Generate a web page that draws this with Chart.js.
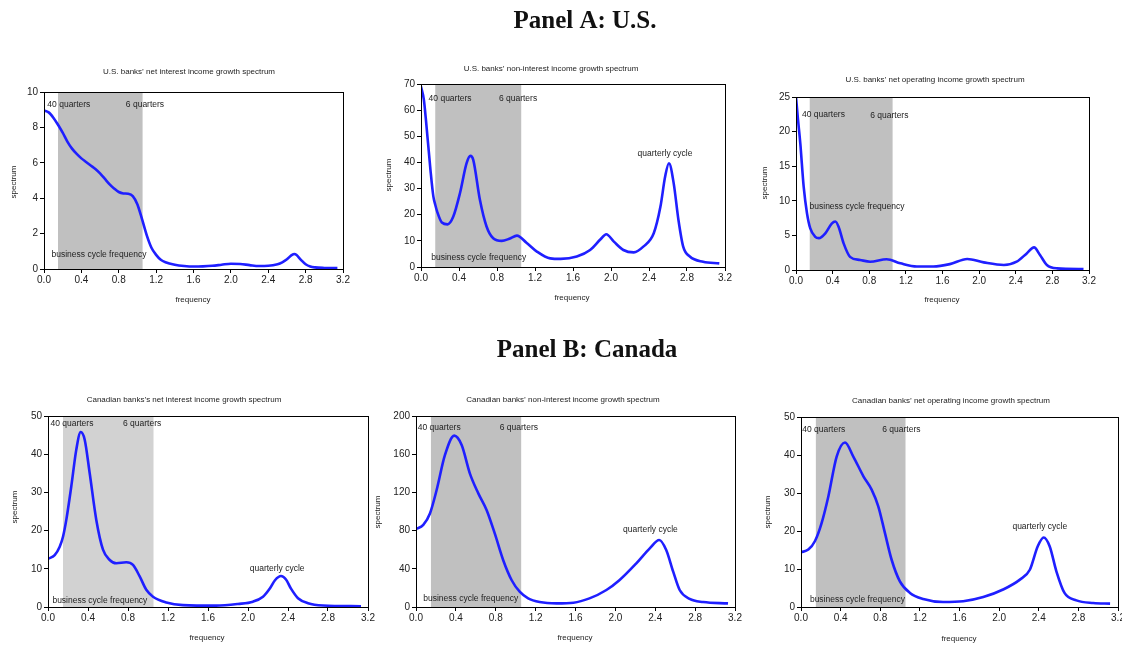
<!DOCTYPE html>
<html><head><meta charset="utf-8">
<script src="https://cdn.jsdelivr.net/npm/chart.js@4.4.1/dist/chart.umd.min.js"></script>
<style>
html,body{margin:0;padding:0;background:#fff;overflow:hidden;width:1122px;height:646px;}
#wrap{position:relative;width:1122px;height:646px;overflow:hidden;}
canvas{position:absolute;}
</style></head><body><div id="wrap"><canvas id="bg" width="1122" height="646" style="left:0;top:0"></canvas></div>
<script>
// ---------------- data ----------------
const headingA = "Panel A: U.S.";
const headingB = "Panel B: Canada";

const xTicks = [0, 0.4, 0.8, 1.2, 1.6, 2.0, 2.4, 2.8, 3.2];
const bandLow = 0.15, bandHigh = 1.055;

// U.S. net interest income
const freqUsNii = [0,0.05,0.1,0.15,0.2,0.25,0.3,0.35,0.4,0.45,0.5,0.55,0.6,0.65,0.7,0.75,0.8,0.85,0.9,0.95,1.0,1.05,1.1,1.15,1.2,1.25,1.3,1.4,1.5,1.6,1.7,1.8,1.9,2.0,2.1,2.2,2.3,2.4,2.5,2.55,2.6,2.65,2.68,2.7,2.75,2.8,2.85,2.9,3.0,3.14];
const specUsNii = [8.95,8.85,8.55,8.15,7.7,7.2,6.8,6.5,6.25,6.05,5.85,5.65,5.4,5.1,4.8,4.55,4.35,4.27,4.25,4.12,3.65,2.8,1.9,1.2,0.8,0.52,0.38,0.24,0.17,0.14,0.15,0.18,0.24,0.3,0.28,0.22,0.17,0.18,0.27,0.38,0.55,0.78,0.85,0.8,0.52,0.27,0.14,0.09,0.06,0.05];
const yTicksUsNii = [0,2,4,6,8,10];

// U.S. non-interest income
const freqUsNonInt = [0,0.03,0.05,0.1,0.13,0.15,0.17,0.22,0.28,0.34,0.41,0.48,0.52,0.55,0.62,0.69,0.76,0.85,0.93,1.01,1.11,1.22,1.36,1.47,1.64,1.78,1.89,1.95,2.03,2.13,2.24,2.34,2.45,2.52,2.57,2.61,2.66,2.71,2.76,2.83,2.97,3.14];
const specUsNonInt = [69,64,57,37,27,23.8,21.2,17,16.3,19.3,28.2,39.7,42.5,41,25.7,15.5,11,10,10.8,12,9.3,5.9,3.3,3.1,4,6.5,10.6,12.5,9.7,6.5,5.6,7.8,12.9,23,34.6,39.7,32,18,7.8,4,2,1.4];
const yTicksUsNonInt = [0,10,20,30,40,50,60,70];

// U.S. net operating income
const freqUsNoi = [0,0.02,0.047,0.084,0.12,0.156,0.21,0.25,0.32,0.39,0.43,0.465,0.52,0.59,0.7,0.81,0.99,1.14,1.32,1.5,1.68,1.87,2.05,2.27,2.41,2.52,2.6,2.665,2.74,2.85,3.14];
const specUsNoi = [25,22,18.3,12,8.2,6,4.8,4.6,5.3,6.7,7.0,6.25,3.85,1.9,1.45,1.2,1.55,0.96,0.5,0.5,0.85,1.6,1.1,0.72,1.2,2.4,3.27,2.16,0.72,0.24,0.15];
const yTicksUsNoi = [0,5,10,15,20,25];

// Canada net interest income
const freqCaNii = [0,0.067,0.117,0.15,0.183,0.233,0.283,0.327,0.367,0.417,0.483,0.55,0.617,0.683,0.783,0.85,0.917,0.983,1.05,1.183,1.35,1.68,1.9,2.05,2.15,2.22,2.27,2.33,2.38,2.43,2.5,2.6,2.75,3.13];
const specCaNii = [12.6,13.6,15.8,18.4,22.8,31.6,41.2,45.8,43.8,35,22.8,15,12.3,11.45,11.7,11,8,4.5,2.7,1.2,0.5,0.35,0.8,1.4,2.7,4.9,7.0,8.1,7.2,4.8,2.3,1.0,0.4,0.2];
const yTicksCaNii = [0,10,20,30,40,50];

// Canada non-interest income
const freqCaNonInt = [0,0.073,0.14,0.207,0.29,0.384,0.458,0.54,0.625,0.708,0.79,0.875,0.96,1.04,1.125,1.24,1.41,1.58,1.74,1.91,2.04,2.21,2.345,2.44,2.51,2.58,2.645,2.745,2.88,3.13];
const specCaNonInt = [81.7,86,98,122.5,159,179.4,169.6,140,119,101.6,77,49,28,16,9,5.2,3.8,4.5,9,17.8,28,45.7,61.4,70.2,59.7,37,17.8,8.4,5.2,3.8];
const yTicksCaNonInt = [0,40,80,120,160,200];

// Canada net operating income
const freqCaNoi = [0,0.074,0.14,0.208,0.276,0.36,0.444,0.528,0.63,0.713,0.78,0.847,0.914,0.998,1.1,1.234,1.435,1.637,1.84,2.04,2.21,2.31,2.39,2.45,2.51,2.578,2.66,2.78,2.95,3.12];
const specCaNoi = [14.4,15.1,17.3,22.1,29.1,39.6,43.3,39.6,34.4,30.9,26.5,19.5,12.5,6.75,3.7,2.1,1.3,1.5,2.6,4.6,7.2,9.8,16,18.3,16,9.4,3.7,1.75,1.05,0.9];
const yTicksCaNoi = [0,10,20,30,40,50];

const titles = [
  "U.S. banks\u2019 net interest income growth spectrum",
  "U.S. banks\u2019 non-interest income growth spectrum",
  "U.S. banks\u2019 net operating income growth spectrum",
  "Canadian banks\u2019s net interest income growth spectrum",
  "Canadian banks\u2019 non-interest income growth spectrum",
  "Canadian banks\u2019 net operating income growth spectrum"
];

// ---------------- layout ----------------
const FONT = '"Liberation Sans", Arial, sans-serif';
const AXW = 44, PADT = 34, AXH = 40, PADR = 14;

const panels = [
  {freq:freqUsNii, spec:specUsNii, yTicks:yTicksUsNii, title:titles[0], band:'#c0c0c0',
   box:{L:44,T:92,R:343,B:269}, titleAt:[189,72], specAt:[14,182], freqAt:[193,300],
   notes:[["40 quarters",0.036,9.3],["6 quarters",0.876,9.3],["business cycle frequency",0.08,0.79]]},
  {freq:freqUsNonInt, spec:specUsNonInt, yTicks:yTicksUsNonInt, title:titles[1], band:'#c0c0c0',
   box:{L:421,T:84,R:725,B:267}, titleAt:[551,69], specAt:[389,175], freqAt:[572,298],
   notes:[["40 quarters",0.08,64.4],["6 quarters",0.82,64.4],["business cycle frequency",0.108,3.7],["quarterly cycle",2.28,43.2]]},
  {freq:freqUsNoi, spec:specUsNoi, yTicks:yTicksUsNoi, title:titles[2], band:'#c0c0c0',
   box:{L:796,T:97,R:1089,B:270}, titleAt:[935,80], specAt:[765,183], freqAt:[942,300],
   notes:[["40 quarters",0.065,22.5],["6 quarters",0.81,22.3],["business cycle frequency",0.148,9.2]]},
  {freq:freqCaNii, spec:specCaNii, yTicks:yTicksCaNii, title:titles[3], band:'#d2d2d2',
   box:{L:48,T:416,R:368,B:607}, titleAt:[184,400], specAt:[15,507], freqAt:[207,638],
   notes:[["40 quarters",0.024,48],["6 quarters",0.75,48],["business cycle frequency",0.044,1.75],["quarterly cycle",2.017,10.1]]},
  {freq:freqCaNonInt, spec:specCaNonInt, yTicks:yTicksCaNonInt, title:titles[4], band:'#c0c0c0',
   box:{L:416,T:416,R:735,B:607}, titleAt:[563,400], specAt:[378,512], freqAt:[575,638],
   notes:[["40 quarters",0.017,187.4],["6 quarters",0.84,187.4],["business cycle frequency",0.073,9.1],["quarterly cycle",2.077,80.6]]},
  {freq:freqCaNoi, spec:specCaNoi, yTicks:yTicksCaNoi, title:titles[5], band:'#c0c0c0',
   box:{L:801,T:417,R:1118,B:607}, titleAt:[951,401], specAt:[768,512], freqAt:[959,639],
   notes:[["40 quarters",0.013,46.7],["6 quarters",0.82,46.7],["business cycle frequency",0.09,1.84],["quarterly cycle",2.134,21.1]]}
];

// headings
(function(){
  const c = document.getElementById('bg').getContext('2d');
  c.fillStyle = '#111';
  c.textAlign = 'center';
  c.textBaseline = 'alphabetic';
  c.font = 'bold 25px "Liberation Serif", "DejaVu Serif", serif';
  c.fillText(headingA, 585, 28);
  c.fillText(headingB, 587, 357);
})();

function makePanel(p, idx){
  const cv = document.createElement('canvas');
  const left = p.box.L - AXW, top = p.box.T - PADT;
  const w = (p.box.R - p.box.L) + AXW + PADR;
  const h = (p.box.B - p.box.T) + PADT + AXH;
  cv.width = w; cv.height = h;
  cv.style.left = left + 'px'; cv.style.top = top + 'px';
  cv.style.width = w + 'px'; cv.style.height = h + 'px';
  document.getElementById('wrap').appendChild(cv);

  const decor = {
    id: 'decor' + idx,
    beforeDatasetsDraw(chart){
      const {ctx, chartArea:a, scales:{x}} = chart;
      const x0 = x.getPixelForValue(bandLow), x1 = x.getPixelForValue(bandHigh);
      ctx.save();
      ctx.fillStyle = p.band;
      ctx.fillRect(x0, a.top, x1 - x0, a.bottom - a.top);
      ctx.restore();
    },
    afterDraw(chart){
      const {ctx, chartArea:a, scales:{x, y}} = chart;
      ctx.save();
      ctx.strokeStyle = '#000';
      ctx.lineWidth = 1;
      ctx.strokeRect(Math.round(a.left) + 0.5, Math.round(a.top) + 0.5, Math.round(a.right - a.left), Math.round(a.bottom - a.top));
      ctx.fillStyle = '#222';
      ctx.textBaseline = 'middle';
      // title
      ctx.font = '8px ' + FONT;
      ctx.textAlign = 'center';
      ctx.fillText(p.title, p.titleAt[0] - left, p.titleAt[1] - top);
      ctx.fillText('frequency', p.freqAt[0] - left, p.freqAt[1] - top);
      ctx.save();
      ctx.translate(p.specAt[0] - left, p.specAt[1] - top);
      ctx.rotate(-Math.PI / 2);
      ctx.fillText('spectrum', 0, 0);
      ctx.restore();
      // notes
      ctx.font = '8.5px ' + FONT;
      ctx.textAlign = 'left';
      ctx.fillStyle = '#222';
      p.notes.forEach(n => {
        ctx.fillText(n[0], x.getPixelForValue(n[1]), y.getPixelForValue(n[2]));
      });
      ctx.restore();
    }
  };

  const yMax = p.yTicks[p.yTicks.length - 1];
  new Chart(cv, {
    type: 'line',
    data: { datasets: [{
      data: p.freq.map((f, i) => ({x: f, y: p.spec[i]})),
      borderColor: '#1f1fff', borderWidth: 2.6, pointRadius: 0,
      cubicInterpolationMode: 'monotone', fill: false
    }]},
    options: {
      responsive: false, animation: false, devicePixelRatio: 1,
      layout: { padding: { left: 0, right: PADR, top: PADT, bottom: 0 } },
      plugins: { legend: {display:false}, tooltip: {enabled:false}, title: {display:false} },
      scales: {
        x: {
          type: 'linear', min: 0, max: 3.2,
          afterBuildTicks: s => { s.ticks = xTicks.map(v => ({value: v})); },
          ticks: { callback: v => Number(v).toFixed(1), font: {family: FONT, size: 10}, color: '#222', padding: 1, maxRotation: 0, autoSkip: false },
          grid: { drawOnChartArea: false, drawTicks: true, tickLength: 4, color: '#000' },
          border: { display: true, color: '#000', width: 1 },
          afterFit: s => { s.height = AXH; }
        },
        y: {
          type: 'linear', min: 0, max: yMax,
          afterBuildTicks: s => { s.ticks = p.yTicks.map(v => ({value: v})); },
          ticks: { font: {family: FONT, size: 10}, color: '#222', padding: 2, autoSkip: false },
          grid: { drawOnChartArea: false, drawTicks: true, tickLength: 4, color: '#000' },
          border: { display: true, color: '#000', width: 1 },
          afterFit: s => { s.width = AXW; }
        }
      }
    },
    plugins: [decor]
  });
}

panels.forEach(makePanel);
</script></body></html>
